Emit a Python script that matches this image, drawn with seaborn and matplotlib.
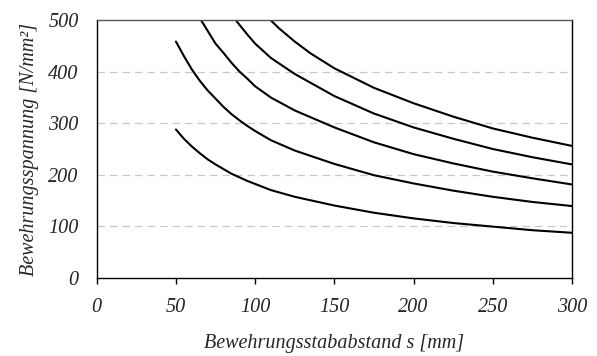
import matplotlib
matplotlib.use("Agg")
import matplotlib.pyplot as plt
import pandas as pd
import seaborn as sns

# Steel stress vs. bar spacing, five curves (lowest to highest)
s1 = [50, 55, 60, 65, 70, 75, 80, 85, 90, 95, 100, 110, 125, 150, 175, 200, 225, 250, 275, 300]
c1 = [288, 270, 255, 242, 230, 220, 211, 202, 195, 188, 182, 170, 157, 140, 126, 115, 106, 99, 92, 87]

s2 = [50, 55, 60, 65, 70, 75, 80, 85, 90, 95, 100, 110, 125, 150, 175, 200, 225, 250, 275, 300]
c2 = [459, 431, 405, 383, 364, 348, 332, 318, 306, 295, 285, 267, 247, 221, 199, 183, 169, 157, 147, 139]

s3 = [66, 70, 75, 80, 85, 90, 95, 100, 110, 125, 150, 175, 200, 225, 250, 275, 300]
c3 = [500, 480, 455, 437, 418, 401, 387, 372, 350, 325, 292, 263, 240, 222, 206, 193, 181]

s4 = [88, 90, 95, 100, 110, 125, 150, 175, 200, 225, 250, 275, 300]
c4 = [500, 492, 473, 455, 427, 396, 353, 319, 292, 270, 250, 234, 220]

s5 = [110, 115, 120, 125, 135, 150, 175, 200, 225, 250, 275, 300]
c5 = [500, 485, 472, 459, 436, 407, 369, 339, 313, 290, 272, 256]

x_ticks = [0, 50, 100, 150, 200, 250, 300]
y_ticks = [0, 100, 200, 300, 400, 500]
x_label = "Bewehrungsstababstand s [mm]"
y_label = "Bewehrungsspannung [N/mm²]"

frames = []
for k, (s, c) in enumerate([(s1, c1), (s2, c2), (s3, c3), (s4, c4), (s5, c5)]):
    frames.append(pd.DataFrame({"s": s, "sigma": c, "curve": k}))
df = pd.concat(frames, ignore_index=True)

sns.set_style("white")
plt.rcParams["font.family"] = ["Liberation Serif", "DejaVu Serif"]
plt.rcParams["font.style"] = "italic"

fig = plt.figure(figsize=(5.97, 3.56), dpi=100)
ax = fig.add_axes([0.162, 0.2205, 0.796, 0.722])

for y in y_ticks[1:-1]:
    ax.axhline(y, color="#c8c8c8", lw=0.9, dashes=(6, 4), zorder=0)

sns.lineplot(data=df, x="s", y="sigma", hue="curve", units="curve",
             estimator=None, sort=False, palette=["black"] * 5,
             linewidth=1.5, legend=False, ax=ax)

fs = 14.5
ax.set_xlim(0, 300)
ax.set_ylim(0, 500)
ax.set_xticks(x_ticks)
ax.set_yticks(y_ticks)
ax.set_xticklabels([str(v) for v in x_ticks], fontsize=fs, style="italic")
ax.set_yticklabels([str(v) for v in y_ticks], fontsize=fs, style="italic")
ax.tick_params(axis="x", direction="out", length=4, width=1, color="black", pad=11, bottom=True)
ax.tick_params(axis="y", length=0, pad=13)

ax.set_xlabel(x_label, fontsize=fs, style="italic", labelpad=12)
ax.set_ylabel(y_label, fontsize=fs, style="italic", labelpad=7)

for side in ["left", "bottom", "right"]:
    ax.spines[side].set_color("black")
    ax.spines[side].set_linewidth(1.0)
ax.spines["top"].set_color("#555555")
ax.spines["top"].set_linewidth(1.0)

fig.savefig("out.png", dpi=100)
